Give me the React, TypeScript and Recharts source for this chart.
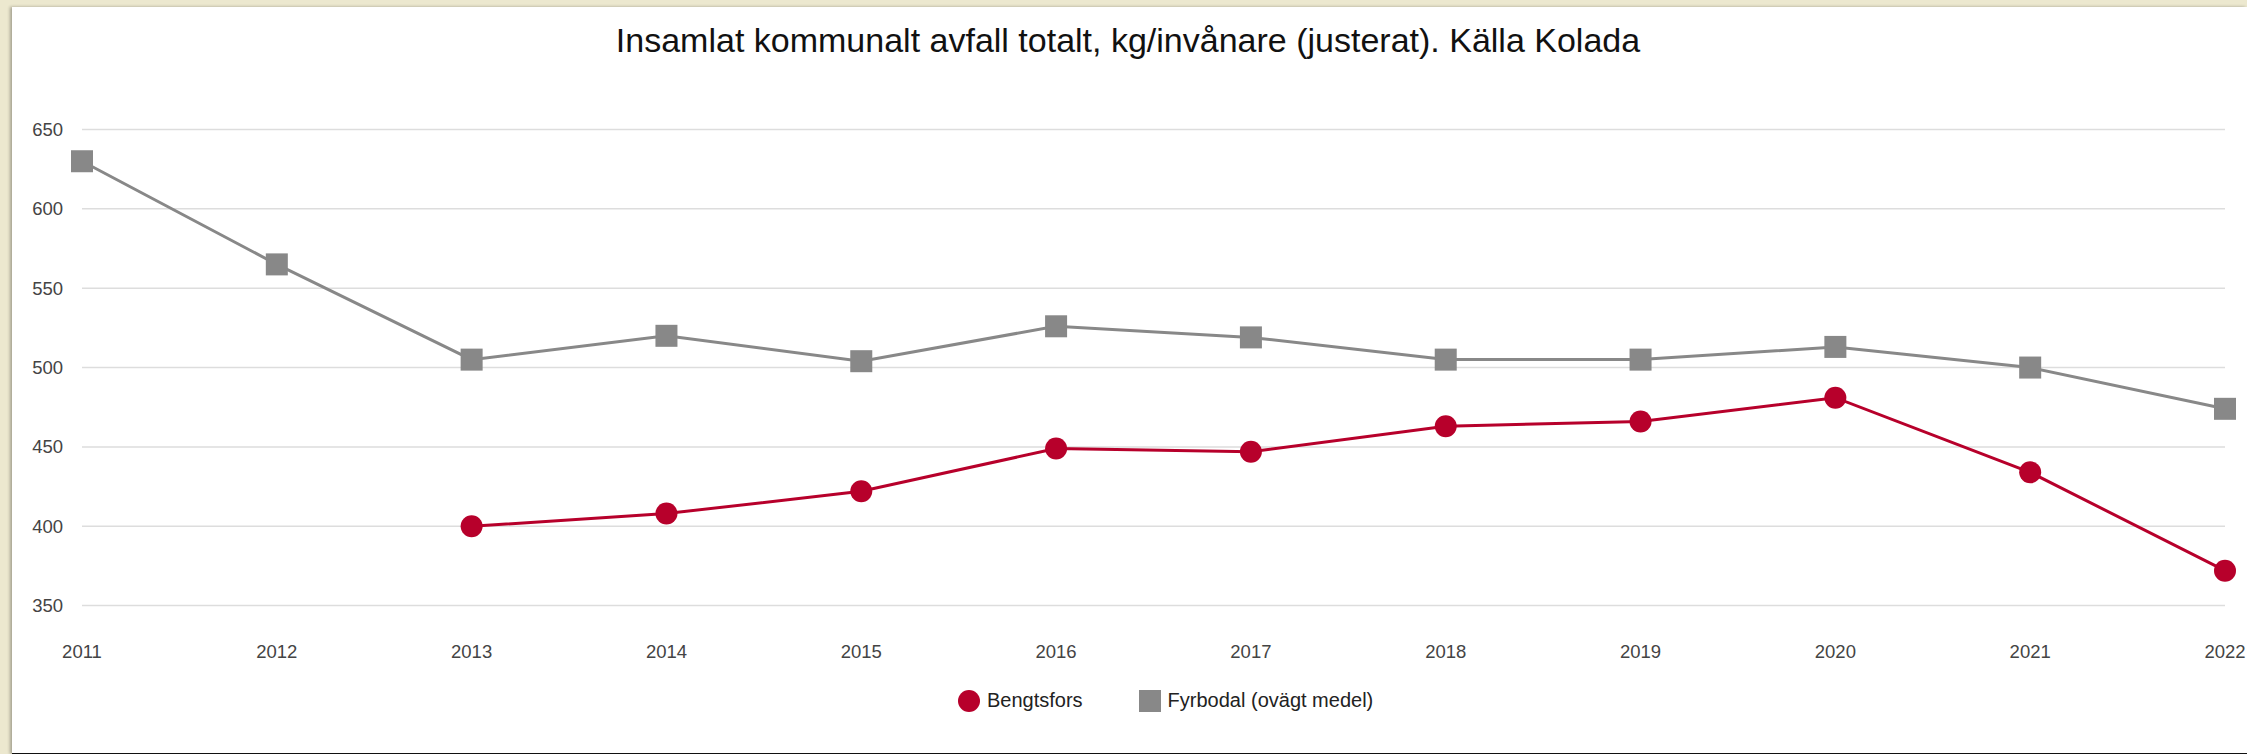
import React from 'react'
import {
  CartesianGrid,
  Line,
  LineChart,
  XAxis,
  YAxis,
} from 'recharts'

const years = [
  '2011', '2012', '2013', '2014', '2015', '2016',
  '2017', '2018', '2019', '2020', '2021', '2022',
]
const bengtsfors = [null, null, 400, 408, 422, 449, 447, 463, 466, 481, 434, 372]
const fyrbodal = [630, 565, 505, 520, 504, 526, 519, 505, 505, 513, 500, 474]
const yTicks = [350, 400, 450, 500, 550, 600, 650]

const RED = '#b7002b'
const GRAY = '#888888'
const FONT = '"Liberation Sans", Arial, sans-serif'

const data = years.map((year, i) => ({
  year,
  bengtsfors: bengtsfors[i],
  fyrbodal: fyrbodal[i],
}))

const SquareDot = (props: any) => {
  const { cx, cy, index } = props
  if (cx == null || cy == null) return <g key={`sq-${index}`} />
  return (
    <rect
      key={`sq-${index}`}
      x={cx - 11}
      y={cy - 11}
      width={22}
      height={22}
      fill={GRAY}
    />
  )
}

// legend drawn as plain html below the plot
const ChartLegend = () => (
  <div
    style={{
      position: 'absolute',
      left: 946,
      top: 682,
      display: 'flex',
      alignItems: 'center',
      fontFamily: FONT,
      fontSize: 20,
      color: '#222',
      whiteSpace: 'nowrap',
    }}
  >
    <svg width={22} height={22}>
      <circle cx={11} cy={11} r={11} fill={RED} />
    </svg>
    <span style={{ marginLeft: 7 }}>Bengtsfors</span>
    <svg width={22} height={22} style={{ marginLeft: 56 }}>
      <rect x={0} y={0} width={22} height={22} fill={GRAY} />
    </svg>
    <span style={{ marginLeft: 7 }}>Fyrbodal (ovägt medel)</span>
  </div>
)

export default function App() {
  return (
    <div
      style={{
        position: 'absolute',
        left: 0,
        top: 0,
        width: 2247,
        height: 754,
        background: '#ece8cf',
        overflow: 'hidden',
      }}
    >
      <div
        style={{
          position: 'absolute',
          left: 12,
          top: 7,
          width: 2235,
          height: 746,
          background: '#fff',
          borderBottom: '1px solid #111',
          boxShadow: '-2px 0 3px rgba(0,0,0,0.3)',
        }}
      >
        <div
          style={{
            position: 'absolute',
            left: -3,
            width: 2238,
            top: 16,
            textAlign: 'center',
            fontFamily: FONT,
            fontSize: 34,
            lineHeight: '34px',
            color: '#111',
            whiteSpace: 'nowrap',
          }}
        >
          Insamlat kommunalt avfall totalt, kg/invånare (justerat). Källa Kolada
        </div>
        <LineChart
          width={2235}
          height={746}
          data={data}
          margin={{ top: 122.5, right: 22, bottom: 87.4, left: 10 }}
          style={{ fontFamily: FONT }}
        >
          <CartesianGrid vertical={false} stroke='#dddddd' strokeWidth={1.5} />
          <XAxis
            dataKey='year'
            axisLine={false}
            tickLine={false}
            tickSize={0}
            tickMargin={39}
            height={60}
            interval={0}
            tick={{ fill: '#444', fontSize: 18.5 }}
          />
          <YAxis
            domain={[350, 650]}
            ticks={yTicks}
            axisLine={false}
            tickLine={false}
            tickSize={0}
            tickMargin={19}
            width={60}
            tick={{ fill: '#444', fontSize: 18.5 }}
          />
          <Line
            dataKey='fyrbodal'
            stroke={GRAY}
            strokeWidth={3}
            dot={SquareDot}
            activeDot={false}
            isAnimationActive={false}
          />
          <Line
            dataKey='bengtsfors'
            stroke={RED}
            strokeWidth={3}
            dot={{ r: 11, fill: RED, stroke: 'none' }}
            activeDot={false}
            isAnimationActive={false}
          />
        </LineChart>
        <ChartLegend />
      </div>
    </div>
  )
}
